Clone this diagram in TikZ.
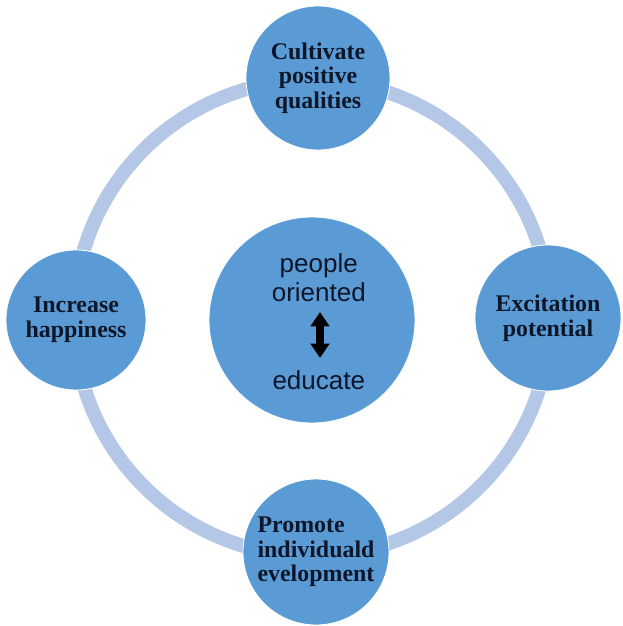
\documentclass[tikz,border=0pt]{standalone}
\usepackage{fontspec}
\setmainfont{Liberation Serif}
\newfontfamily\coresans{Liberation Sans}
\usepackage{xcolor}
\usetikzlibrary{arrows.meta}
\definecolor{ringblue}{HTML}{B4C7E7}
\definecolor{ballblue}{HTML}{5B9BD5}
\definecolor{inkdark}{HTML}{0D1629}
\tikzset{
	ball/.style={circle, fill=ballblue, draw=white, line width=0.6pt, inner sep=0pt, minimum size=3.5cm, text=inkdark, font=\fontsize{17}{17.5}\selectfont\bfseries, align=center},
	coretext/.style={text=inkdark, font=\coresans\fontsize{18.5}{20.5}\selectfont, align=center, inner sep=1pt}
}

\begin{document}
\begin{tikzpicture}
			\useasboundingbox (-7.8,-7.7) rectangle (7.75,7.95);
			\draw[ringblue, line width=0.35cm](0,0) circle (5.95);
			\node[ball, minimum size=3.6cm](cult) at (0.15,6.0){Cultivate\\positive\\qualities};
			\node[ball](incr) at (-5.9,-0.05){Increase\\happiness};
			\node[ball, minimum size=3.65cm](exci) at (5.9,0){Excitation\\potential};
			\node[ball, minimum size=3.65cm, align=left](prom) at (0.1,-5.85){Promote\\individuald\\evelopment};
			\node[ball, minimum size=5.15cm](core) at (0,-0.05){};
			\node[coretext](peop) at (0.17,1.0){people\\oriented};
			\node[coretext](edu) at (0.17,-1.55){educate};
			\coordinate(atop) at (0.2,0.15);
			\coordinate(abot) at (0.2,-1.0);
			\draw[line width=1.8mm, {Triangle[width=4.6mm,length=3.6mm]}-{Triangle[width=4.6mm,length=3.6mm]}](atop) -- (abot);
		\end{tikzpicture}
\end{document}
